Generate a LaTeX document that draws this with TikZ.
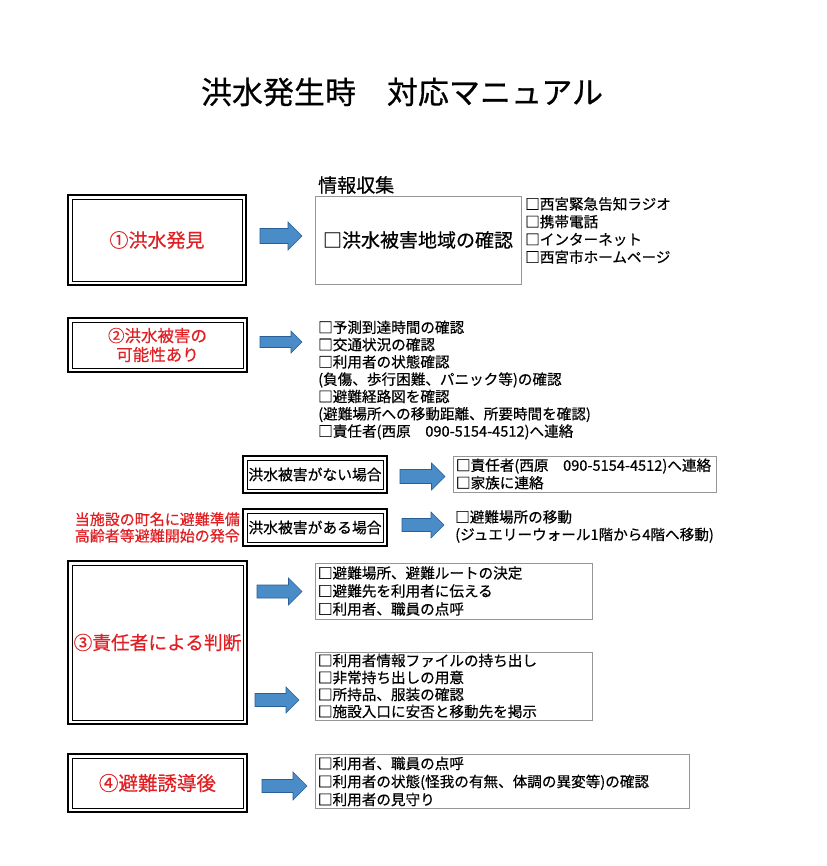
\documentclass[tikz,border=0pt]{standalone}
\usepackage{fontspec}
\setmainfont[FakeBold=0.5]{Noto Sans CJK JP}
\definecolor{redtxt}{RGB}{225,32,36}
\definecolor{arrfill}{RGB}{74,140,200}
\definecolor{arredge}{RGB}{40,95,150}
\definecolor{boxgray}{RGB}{150,150,150}
\newcommand\fs[2]{\fontsize{#1}{#2}\selectfont}
\newcommand\blockarrow[5]{%
  \begin{scope}[shift={(#1,#2)}]
    \filldraw[fill=arrfill, draw=arredge, line width=0.6pt, line join=miter]
      (0,{-#5/2}) -- ({#3-#4/2},{-#5/2}) -- ({#3-#4/2},{-#4/2}) -- (#3,0)
      -- ({#3-#4/2},{#4/2}) -- ({#3-#4/2},{#5/2}) -- (0,{#5/2}) -- cycle;
  \end{scope}}
\tikzset{
  dblbox/.style={draw, line width=1.8pt, inner sep=0pt,
    path picture={\draw[line width=0.8pt]
      ([xshift=4pt,yshift=-4pt]path picture bounding box.north west) rectangle
      ([xshift=-4pt,yshift=4pt]path picture bounding box.south east);}},
  graybox/.style={draw=boxgray, line width=0.9pt, inner ysep=0pt},
  plain/.style={inner sep=0pt, align=left},
  redlabel/.style={text=redtxt}
}
\begin{document}
\begin{tikzpicture}[x=1pt,y=-1pt]
\fill[white] (0,0) rectangle (826,866);
\useasboundingbox (0,0) rectangle (826,866);

\node[font=\fs{31}{36}] (title) at (402,92) {洪水発生時　対応マニュアル};

% section 1
\node[dblbox, redlabel, minimum width=178pt, minimum height=90pt, font=\fs{19}{22}] (b1) at (157,240) {①洪水発見};
\blockarrow{260}{236}{42}{28}{15}
\node[plain, anchor=west, font=\fs{19}{22}] (lab) at (318,185) {情報収集};
\node[graybox, inner xsep=0pt, minimum width=206pt, minimum height=88pt, font=\fs{19}{22}] (info) at (418,240) {□洪水被害地域の確認};
\node[plain, anchor=west, font=\fs{14.6}{17.7}] (src) at (525,230.5) {□西宮緊急告知ラジオ\\□携帯電話\\□インターネット\\□西宮市ホームページ};

% section 2
\node[dblbox, redlabel, align=center, minimum width=179pt, minimum height=54pt, font=\fs{16.5}{19}] (b2) at (157.5,345) {②洪水被害の\\可能性あり};
\blockarrow{260}{342}{42}{22}{11}
\node[plain, anchor=west, font=\fs{14.6}{17.3}] (l2) at (318,380) {□予測到達時間の確認\\□交通状況の確認\\□利用者の状態確認\\(負傷、歩行困難、パニック等)の確認\\□避難経路図を確認\\(避難場所への移動距離、所要時間を確認)\\□責任者(西原　090-5154-4512)へ連絡};

% cases
\node[dblbox, minimum width=144pt, minimum height=37pt, font=\fs{14.8}{17}] (none) at (315,474.5) {洪水被害がない場合};
\blockarrow{400}{476.5}{45}{27}{14}
\node[graybox, inner xsep=3pt, text width=257pt, align=left, minimum height=36pt, font=\fs{14.6}{17.5}] (ln) at (584.5,474) {□責任者(西原　090-5154-4512)へ連絡\\□家族に連絡};

\node[plain, redlabel, anchor=east, align=right, font=\fs{15}{16.5}] (note) at (240,527.5) {当施設の町名に避難準備\\高齢者等避難開始の発令};
\node[dblbox, minimum width=144pt, minimum height=37pt, font=\fs{14.8}{17}] (some) at (315,527.5) {洪水被害がある場合};
\blockarrow{402}{525}{42}{26}{13}
\node[plain, anchor=west, font=\fs{14.6}{17.5}] (ls) at (455,526.5) {□避難場所の移動\\(ジュエリーウォール1階から4階へ移動)};

% section 3
\node[dblbox, redlabel, minimum width=179pt, minimum height=163pt, font=\fs{18.7}{22}] (b3) at (157.5,642.5) {③責任者による判断};
\blockarrow{257}{591.5}{45}{27}{13}
\node[graybox, inner xsep=3pt, text width=271pt, align=left, minimum height=56pt, font=\fs{14.6}{18}] (l3a) at (453.5,591) {□避難場所、避難ルートの決定\\□避難先を利用者に伝える\\□利用者、職員の点呼};
\blockarrow{255}{700}{44}{26}{13}
\node[graybox, inner xsep=3pt, text width=271pt, align=left, minimum height=68pt, font=\fs{14.6}{17}] (l3b) at (453.5,686) {□利用者情報ファイルの持ち出し\\□非常持ち出しの用意\\□所持品、服装の確認\\□施設入口に安否と移動先を掲示};

% section 4
\node[dblbox, redlabel, minimum width=179pt, minimum height=58pt, font=\fs{19.5}{22}] (b4) at (157.5,783) {④避難誘導後};
\blockarrow{262}{786}{45}{28}{13}
\node[graybox, inner xsep=3pt, text width=368pt, align=left, minimum height=54pt, font=\fs{14.6}{18}] (l4) at (502,781.5) {□利用者、職員の点呼\\□利用者の状態(怪我の有無、体調の異変等)の確認\\□利用者の見守り};
\end{tikzpicture}
\end{document}
